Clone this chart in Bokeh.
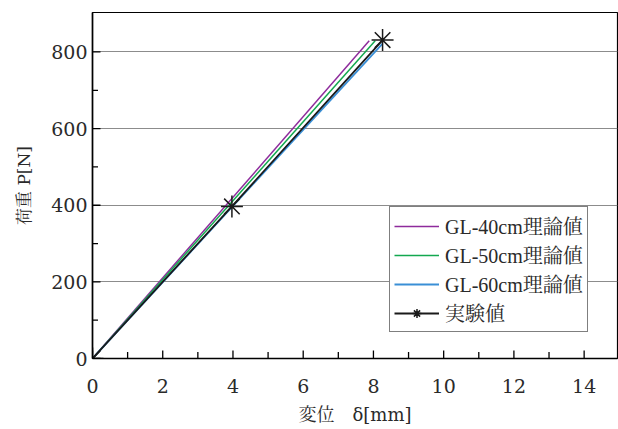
from bokeh.plotting import figure
from bokeh.models import Legend, LegendItem, Range1d, FixedTicker
from bokeh.embed import file_html
from bokeh.resources import INLINE

# Load-displacement data
gl40_x = [0.0, 7.88]
gl40_y = [0.0, 829.0]
gl50_x = [0.0, 8.05]
gl50_y = [0.0, 829.0]
gl60_x = [0.0, 8.26]
gl60_y = [0.0, 822.0]
exp_x = [0.0, 3.97, 8.26]
exp_y = [0.0, 397.0, 831.0]

x_ticks = [0, 2, 4, 6, 8, 10, 12, 14]
x_minor = [1, 3, 5, 7, 9, 11, 13]
y_ticks = [0, 200, 400, 600, 800]
y_minor = [100, 300, 500, 700]

NUM_FONT = "'DejaVu Serif', serif"
LABEL_FONT = "'DejaVu Serif', 'Noto Serif CJK JP', 'Noto Sans CJK JP', serif"
LEGEND_FONT = "'Liberation Serif', 'Noto Serif CJK JP', 'Noto Sans CJK JP', serif"
TEXT = "#2a2a2a"

p = figure(width=618, height=429, output_backend="svg", toolbar_location=None,
           x_range=Range1d(0, 14.95), y_range=Range1d(0, 903),
           min_border_left=92, min_border_right=1, min_border_top=12, min_border_bottom=71)

p.outline_line_color = "black"
p.outline_line_width = 1.2

# grid only at the labelled loads above zero
p.xgrid.grid_line_color = None
p.ygrid.ticker = FixedTicker(ticks=[200, 400, 600, 800])
p.ygrid.grid_line_color = "#8c8c8c"
p.ygrid.grid_line_width = 1.2

p.xaxis.ticker = FixedTicker(ticks=x_ticks)
p.yaxis.ticker = FixedTicker(ticks=y_ticks)

for ax in (p.xaxis[0], p.yaxis[0]):
    ax.axis_line_color = "black"
    ax.axis_line_width = 1.6
    ax.major_tick_in = 0
    ax.major_tick_out = 0
    ax.minor_tick_in = 0
    ax.minor_tick_out = 0
    ax.major_label_text_font = NUM_FONT
    ax.major_label_text_font_size = "19px"
    ax.major_label_text_color = TEXT
    ax.axis_label_text_font = LABEL_FONT
    ax.axis_label_text_font_size = "18px"
    ax.axis_label_text_font_style = "normal"
    ax.axis_label_text_color = TEXT

p.xaxis.major_label_standoff = 20
p.yaxis.major_label_standoff = 5
p.xaxis.axis_label = "変位\u2003δ[mm]"
p.yaxis.axis_label = "荷重 P[N]"
p.xaxis.axis_label_standoff = 8
p.yaxis.axis_label_standoff = 14
p.yaxis.axis_label_text_font_size = "17px"

# inward tick marks along the bottom and left axes (clipped to the frame)
p.scatter(x_ticks, [0] * len(x_ticks), marker="dash", angle=1.5708, size=16,
          line_color="black", line_width=1.3)
p.scatter(x_minor, [0] * len(x_minor), marker="dash", angle=1.5708, size=13,
          line_color="black", line_width=1.3)
p.scatter([0] * len(y_ticks), y_ticks, marker="dash", size=16,
          line_color="black", line_width=1.3)
p.scatter([0] * len(y_minor), y_minor, marker="dash", size=11,
          line_color="black", line_width=1.3)

r40 = p.line(gl40_x, gl40_y, line_color="#8e2b9c", line_width=1.5)
r50 = p.line(gl50_x, gl50_y, line_color="#13a84f", line_width=1.5)
r60 = p.line(gl60_x, gl60_y, line_color="#3a8fd6", line_width=1.8)
rexp = p.line(exp_x, exp_y, line_color="#1a1a1a", line_width=1.8)
rexp_m = p.scatter(exp_x, exp_y, marker="asterisk", size=22, line_color="#1a1a1a",
                   line_width=1.5)

legend = Legend(items=[
    LegendItem(label="GL-40cm理論値", renderers=[r40]),
    LegendItem(label="GL-50cm理論値", renderers=[r50]),
    LegendItem(label="GL-60cm理論値", renderers=[r60]),
    LegendItem(label="実験値", renderers=[rexp, rexp_m]),
], location=(297, 26))
legend.border_line_color = "black"
legend.border_line_width = 1.5
legend.background_fill_alpha = 1.0
legend.label_text_font = LEGEND_FONT
legend.label_text_font_size = "20px"
legend.label_text_color = TEXT
legend.glyph_width = 45
legend.glyph_height = 22
legend.label_height = 22
legend.spacing = -1
legend.padding = 4
legend.margin = 0
legend.label_standoff = 6
p.add_layout(legend)

open("out.html", "w").write(file_html(p, INLINE))
